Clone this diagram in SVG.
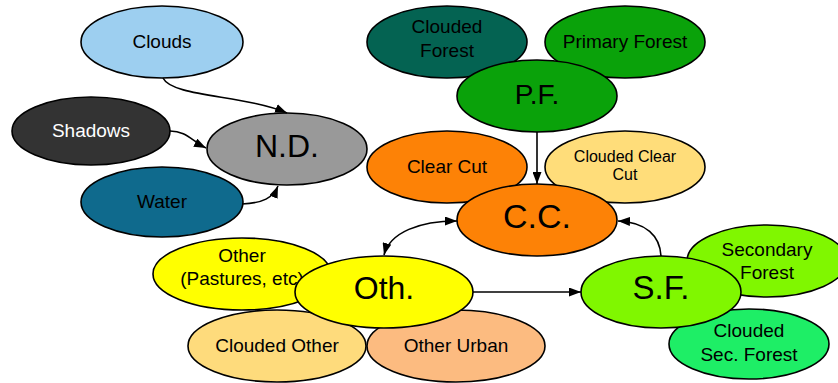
<svg xmlns="http://www.w3.org/2000/svg" width="838" height="383" viewBox="0 0 838 383">
<style>
  .n ellipse { stroke: #000; stroke-width: 1.6; }
  text { font-family: "Liberation Sans", Arial, sans-serif; text-anchor: middle; fill: #000; }
  .s { font-size: 19px; }
  .xs { font-size: 16px; }
  .b { font-size: 32px; }
  .e { fill: none; stroke: #000; stroke-width: 1.6; }
</style>
<defs>
  <marker id="arr" viewBox="0 0 12 9" refX="12" refY="4.5" markerWidth="12" markerHeight="9" markerUnits="userSpaceOnUse" orient="auto-start-reverse">
    <path d="M0,0 L12,4.5 L0,9 z" fill="#000"/>
  </marker>
</defs>
<rect width="838" height="383" fill="#fff"/>

<g id="clouds" class="n"><ellipse cx="162" cy="42" rx="81" ry="36" fill="#9dcff0"/><text class="s" x="162" y="48">Clouds</text></g>
<g id="shadows" class="n"><ellipse cx="91" cy="131" rx="79" ry="34" fill="#333333"/><text class="s" x="91" y="137" fill="#fff" style="fill:#fff">Shadows</text></g>
<g id="water" class="n"><ellipse cx="162" cy="202" rx="81" ry="35" fill="#0f6a8d"/><text class="s" x="162" y="208">Water</text></g>
<g id="nd" class="n"><ellipse cx="287" cy="149" rx="80" ry="36" fill="#999999"/><text class="b" x="287" y="157">N.D.</text></g>

<g id="clouded-forest" class="n"><ellipse cx="447" cy="42" rx="80" ry="36" fill="#046352"/><text class="s" x="447" y="33">Clouded</text><text class="s" x="447" y="57">Forest</text></g>
<g id="primary-forest" class="n"><ellipse cx="625" cy="42" rx="80" ry="36" fill="#0aa20a"/><text class="s" x="625" y="48">Primary Forest</text></g>
<g id="pf" class="n"><ellipse cx="537" cy="96" rx="80" ry="36" fill="#0aa20a"/><text x="537" y="104" style="font-size:28px">P.F.</text></g>

<g id="clear-cut" class="n"><ellipse cx="447" cy="167" rx="80" ry="36" fill="#fd8206"/><text class="s" x="447" y="173">Clear Cut</text></g>
<g id="clouded-clear-cut" class="n"><ellipse cx="625" cy="167" rx="80" ry="36" fill="#ffdd7a"/><text class="xs" x="625" y="162">Clouded Clear</text><text class="xs" x="625" y="180">Cut</text></g>
<g id="cc" class="n"><ellipse cx="537" cy="220" rx="80" ry="36" fill="#fd8206"/><text x="537" y="228" style="font-size:34px">C.C.</text></g>

<g id="clouded-other" class="n"><ellipse cx="277" cy="346" rx="89" ry="36" fill="#fedb7c"/><text class="s" x="277" y="352">Clouded Other</text></g>
<g id="other-urban" class="n"><ellipse cx="456" cy="346" rx="89" ry="36" fill="#fcbb80"/><text class="s" x="456" y="352">Other Urban</text></g>
<g id="other-pastures" class="n"><ellipse cx="242" cy="274" rx="89" ry="36" fill="#ffff00"/><text class="s" x="242" y="262">Other</text><text class="s" x="242" y="285">(Pastures, etc)</text></g>
<g id="oth" class="n"><ellipse cx="384" cy="292" rx="89" ry="36" fill="#ffff00"/><text class="b" x="384" y="299">Oth.</text></g>

<g id="secondary-forest" class="n"><ellipse cx="767" cy="261" rx="80" ry="36" fill="#80f700"/><text class="s" x="767" y="256">Secondary</text><text class="s" x="767" y="279">Forest</text></g>
<g id="clouded-sec-forest" class="n"><ellipse cx="749" cy="344" rx="80" ry="35" fill="#1eee66"/><text class="s" x="749" y="337">Clouded</text><text class="s" x="749" y="361">Sec. Forest</text></g>
<g id="sf" class="n"><ellipse cx="661" cy="292" rx="80" ry="36" fill="#80f700"/><text class="b" x="661" y="299" style="font-size:33px">S.F.</text></g>

<g id="connectors">
  <path class="e" d="M163,78 C172,97 245,95 287,113" marker-end="url(#arr)"/>
  <path class="e" d="M170,131 C186,131 192,141 206,148" marker-end="url(#arr)"/>
  <path class="e" d="M242,204 C263,203 273,198 278,186" marker-end="url(#arr)"/>
  <path class="e" d="M537,132 L537,184" marker-end="url(#arr)"/>
  <path class="e" d="M384,255 C390,232 420,221 457,221" marker-start="url(#arr)" marker-end="url(#arr)"/>
  <path class="e" d="M473,292 L581,292" marker-end="url(#arr)"/>
  <path class="e" d="M661,256 C660,236 646,222 618,221" marker-end="url(#arr)"/>
</g>
</svg>
